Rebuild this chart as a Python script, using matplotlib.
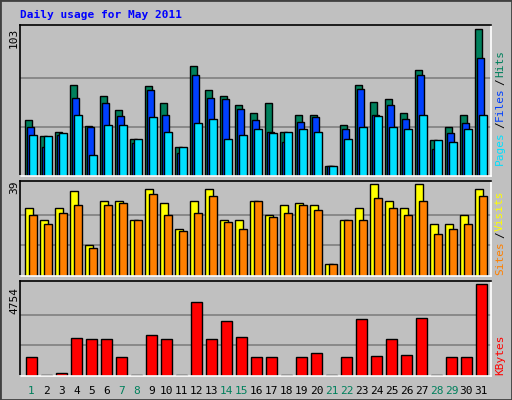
import matplotlib
matplotlib.use("Agg")
import matplotlib.pyplot as plt
import numpy as np

days = list(range(1, 32))
weekend = [1, 7, 8, 14, 15, 21, 22, 28, 29]
hits = [39, 28, 31, 64, 35, 56, 46, 26, 63, 51, 20, 77, 60, 56, 50, 44,
        51, 31, 43, 43, 7, 36, 64, 52, 54, 44, 74, 25, 34, 43, 103]
files = [34, 20, 29, 55, 34, 51, 42, 23, 60, 43, 16, 71, 55, 54, 47, 39,
         31, 24, 38, 41, 7, 33, 61, 43, 50, 40, 71, 19, 30, 37, 83]
pages = [29, 28, 30, 43, 15, 36, 36, 26, 41, 31, 20, 37, 40, 26, 29, 33,
         30, 31, 33, 31, 7, 26, 34, 42, 34, 33, 43, 25, 24, 33, 43]
sites = [29, 24, 29, 36, 13, 32, 32, 24, 37, 31, 20, 32, 37, 24, 24, 32,
         26, 30, 31, 30, 5, 24, 29, 39, 32, 29, 39, 22, 22, 26, 37]
visits = [26, 22, 27, 30, 12, 30, 31, 24, 35, 26, 19, 27, 34, 23, 20, 32,
          25, 27, 30, 28, 5, 24, 24, 33, 29, 26, 32, 18, 20, 22, 34]
kbytes = [1006, 60, 170, 1995, 1943, 1943, 1006, 60, 2151, 1943, 60, 3817,
          1943, 2880, 2047, 1006, 1006, 60, 1006, 1215, 60, 1006, 2984, 1058,
          1943, 1110, 3036, 60, 1006, 1006, 4754]

BG = "#c0c0c0"
fig = plt.figure(figsize=(5.12, 4.0), dpi=100, facecolor=BG)
fig.patches.append(plt.Rectangle((0, 0), 1, 1, transform=fig.transFigure,
                                 fill=False, edgecolor="#404040", lw=2))
mono = "DejaVu Sans Mono"
x = np.arange(31)

def panel(bottom_px, top_px, ymax, maxval):
    ax = fig.add_axes([20/512, 1-bottom_px/400, 471/512, (bottom_px-top_px)/400])
    ax.set_facecolor(BG)
    ax.set_xlim(-0.33, 31.07)
    ax.set_ylim(0, ymax)
    for g in (maxval/3, 2*maxval/3):
        ax.axhline(g, color="#808080", lw=1.2, zorder=0)
    ax.set_xticks([]); ax.set_yticks([])
    for s in ax.spines.values():
        s.set_color("black"); s.set_linewidth(1.2)
    ax.spines["right"].set_color("white"); ax.spines["bottom"].set_color("white")
    return ax

bk = dict(edgecolor="black", linewidth=1, align="edge")
ax1 = panel(176, 25, 105.8, 103)
ax1.bar(x, hits, 0.5, color="#00805c", **bk)
ax1.bar(x + 0.11, files, 0.52, color="#0040ff", **bk)
ax1.bar(x + 0.27, pages, 0.51, color="#00e0ff", **bk)

ax2 = panel(276, 181, 40.4, 39)
ax2.bar(x, sites, 0.55, color="#ffff00", **bk)
ax2.bar(x + 0.27, visits, 0.51, color="#ff8000", **bk)

ax3 = panel(376, 281, 4931, 4754)
ax3.bar(x + 0.09, kbytes, 0.69, color="#ff0000", **bk)

for i, d in enumerate(days):
    ax3.text(i + 0.43, -0.1, str(d), transform=ax3.get_xaxis_transform(),
             ha="center", va="top", fontsize=8, family=mono,
             color="#00805c" if d in weekend else "black")

fig.text(20/512, 1-15/400, "Daily usage for May 2011", color="#0000ff",
         fontsize=8, family=mono, fontweight="bold", va="center")
for lab, ypx in (("103", 38), ("39", 187), ("4754", 300)):
    fig.text(14/512, 1-ypx/400, lab, rotation=90, fontsize=8, family=mono,
             ha="center", va="center")

def side(parts, start_px):
    y = start_px
    for t, c in parts:
        fig.text(500/512, 1-y/400, t, rotation=90, color=c, fontsize=8,
                 family=mono, ha="center", va="bottom")
        y -= 7.3 * len(t)

side([("Pages", "#00e0ff"), ("/", "black"), ("Files", "#0040ff"),
      ("/", "black"), ("Hits", "#00805c")], 165)
side([("Sites", "#ff8000"), ("/", "black"), ("Visits", "#ffff00")], 275)
side([("KBytes", "#ff0000")], 375)

fig.savefig("out.png", dpi=100, facecolor=BG)
